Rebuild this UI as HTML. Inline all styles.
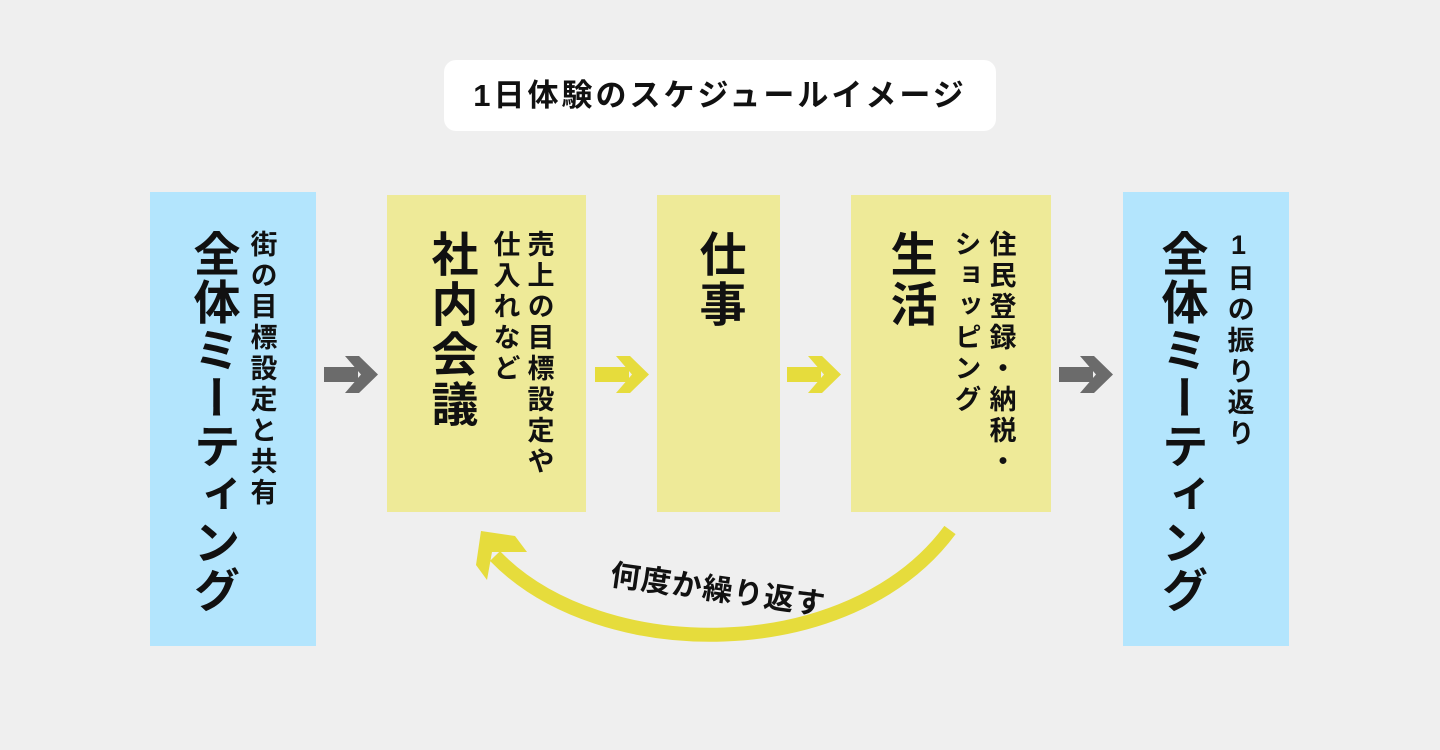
<!DOCTYPE html>
<html><head><meta charset="utf-8"><style>
body{margin:0;width:1440px;height:750px;background:#efefef;position:relative;overflow:hidden;font-family:"Liberation Sans","Noto Sans CJK JP",sans-serif;font-weight:bold;color:#111}
.a{position:absolute}
.box{position:absolute}
.blue{background:#b3e5fd}
.yel{background:#eeea98}
.v{position:absolute;writing-mode:vertical-rl;text-orientation:upright;white-space:nowrap;line-height:1;transform:translateX(-50%)}
.big{font-size:47px;letter-spacing:1px}
.sm{font-size:27px;letter-spacing:4px}
</style></head><body>
<div class="a" style="left:444px;top:60px;width:552px;height:71px;background:#fff;border-radius:12px;text-align:center;line-height:71px;font-size:31px;letter-spacing:3px">1日体験のスケジュールイメージ</div>

<div class="box blue" style="left:150px;top:192px;width:166px;height:454px"></div>
<div class="v big" style="left:213px;top:230px">全体ミーティング</div>
<div class="v sm" style="left:261px;top:230px">街の目標設定と共有</div>

<div class="box yel" style="left:387px;top:195px;width:199px;height:317px"></div>
<div class="v big" style="left:451px;top:230px;letter-spacing:3px">社内会議</div>
<div class="v sm" style="left:538px;top:230px">売上の目標設定や</div>
<div class="v sm" style="left:504px;top:230px">仕入れなど</div>

<div class="box yel" style="left:657px;top:195px;width:123px;height:317px"></div>
<div class="v big" style="left:719px;top:230px;letter-spacing:3px">仕事</div>

<div class="box yel" style="left:851px;top:195px;width:200px;height:317px"></div>
<div class="v big" style="left:910px;top:230px;letter-spacing:3px">生活</div>
<div class="v sm" style="left:1000px;top:230px">住民登録・納税・</div>
<div class="v sm" style="left:965px;top:230px">ショッピング</div>

<div class="box blue" style="left:1123px;top:192px;width:166px;height:454px"></div>
<div class="v big" style="left:1181px;top:230px">全体ミーティング</div>
<div class="v sm" style="left:1238px;top:230px">1日の振り返り</div>

<svg class="a" style="left:0;top:0" width="1440" height="750">
<g fill="#6b6b6b">
<rect x="324" y="367" width="34" height="15"/><polygon points="345,356 359,356 378,374.5 359,393 345,393 361,374.5"/>
<rect x="1059" y="367" width="34" height="15"/><polygon points="1080,356 1094,356 1113,374.5 1094,393 1080,393 1096,374.5"/>
</g>
<g fill="#e6dc3c">
<rect x="595" y="367" width="34" height="15"/><polygon points="616,356 630,356 649,374.5 630,393 616,393 632,374.5"/>
<rect x="787" y="367" width="34" height="15"/><polygon points="808,356 822,356 841,374.5 822,393 808,393 824,374.5"/>
</g>
<path d="M950 530 C850 665,600 665,495 556" fill="none" stroke="#e6dc3c" stroke-width="14"/>
<polygon points="481,531 515,536 527,552 492,552 487,580 476,565" fill="#e6dc3c"/>
<text x="718" y="600" font-size="30" font-weight="bold" text-anchor="middle" letter-spacing="1" transform="rotate(8 718 590)" font-family="Liberation Sans, Noto Sans CJK JP, sans-serif" fill="#111">何度か繰り返す</text>
</svg>
</body></html>
